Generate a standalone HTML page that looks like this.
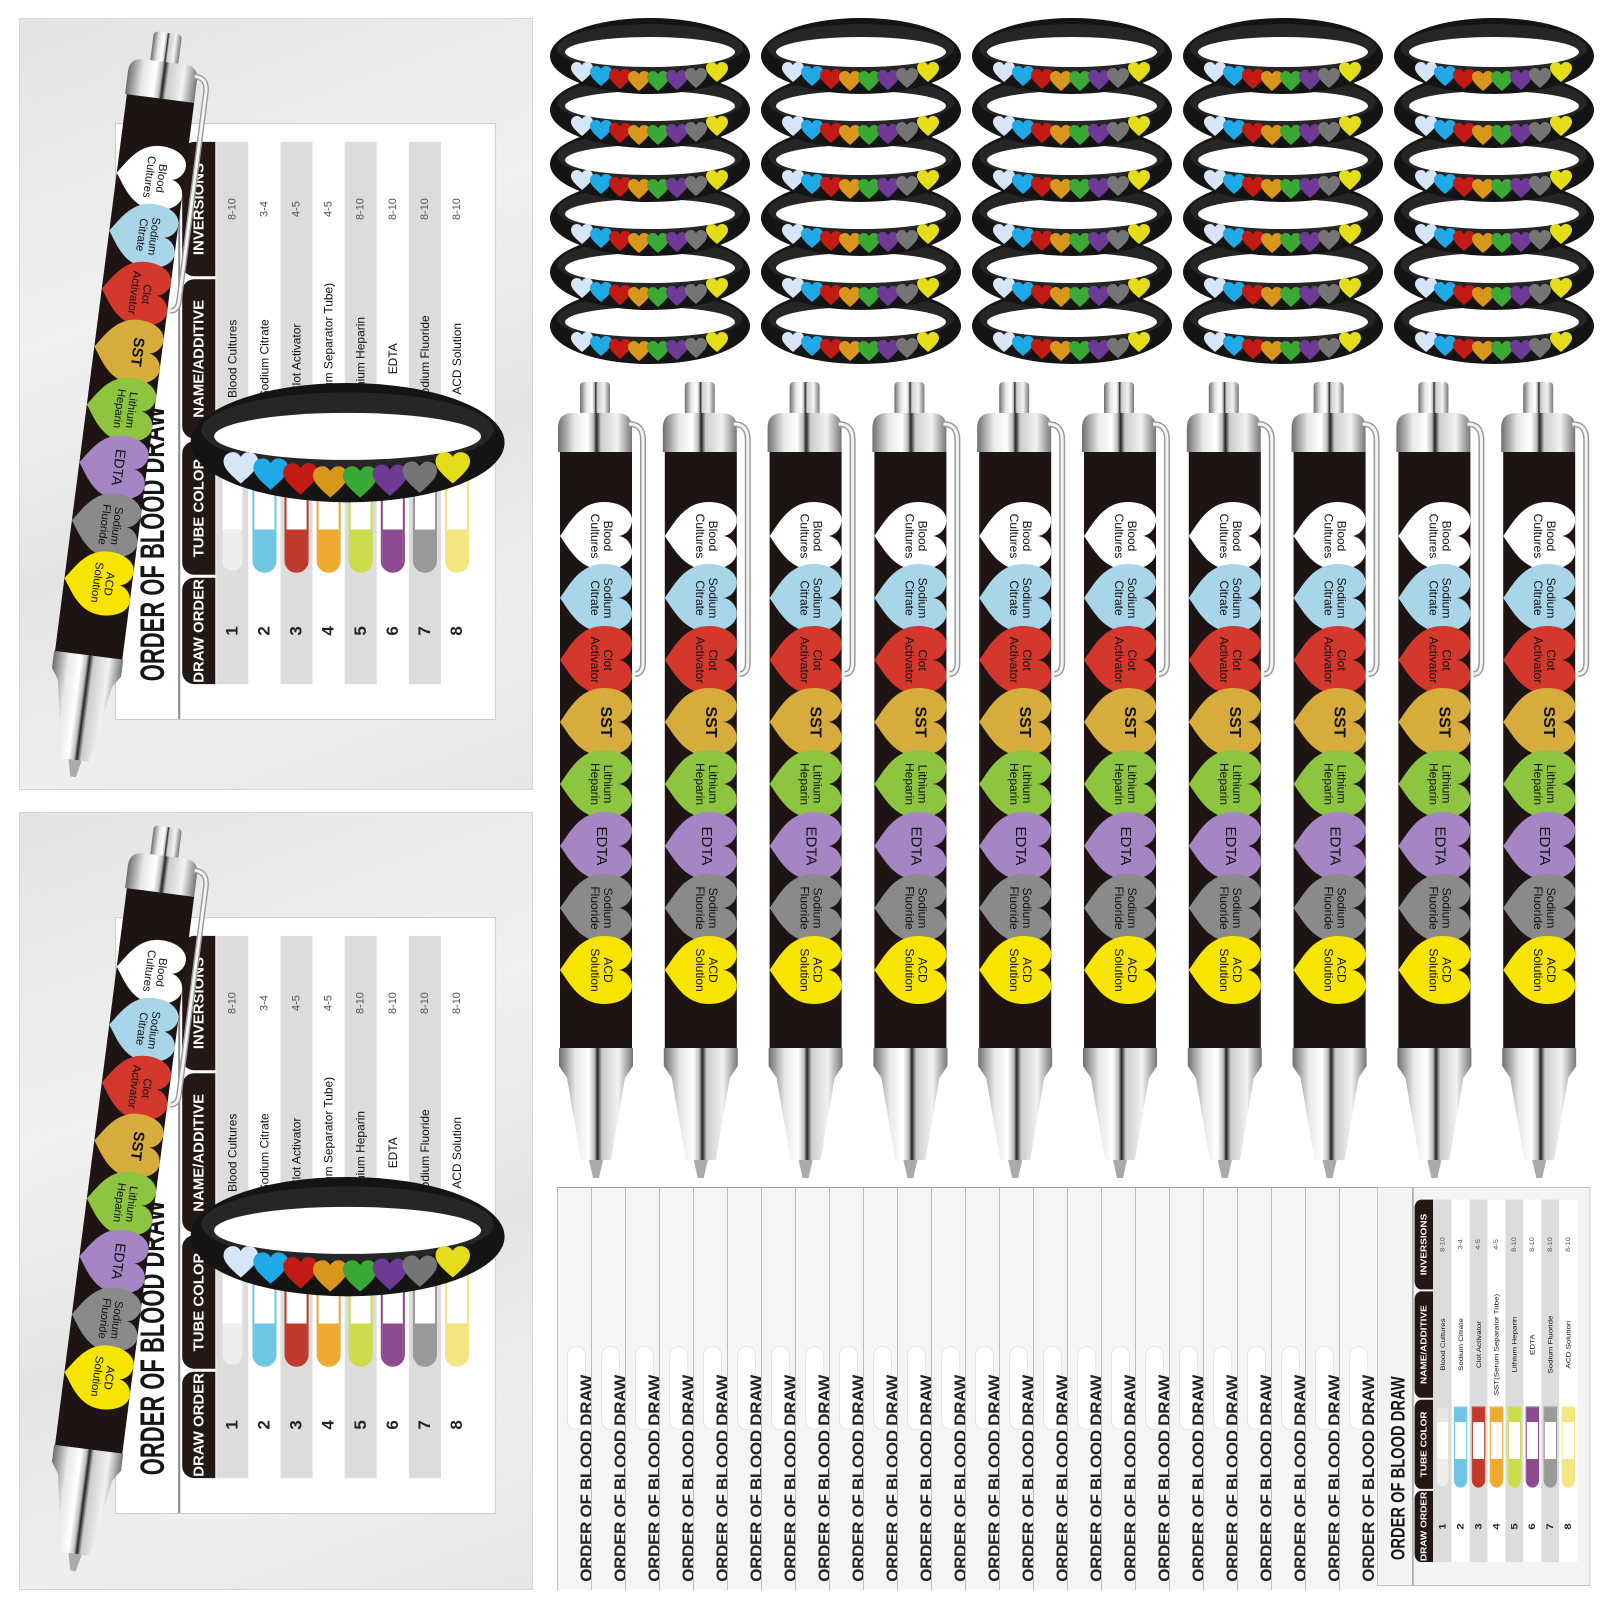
<!DOCTYPE html>
<html><head><meta charset="utf-8">
<style>
*{margin:0;padding:0;box-sizing:border-box}
body{width:1600px;height:1600px;background:#fff;position:relative;overflow:hidden;font-family:"Liberation Sans",sans-serif}
.bag{position:absolute;left:19px;width:514px;background:linear-gradient(160deg,#e3e3e3,#f1f1f1 35%,#e4e4e4 60%,#eeeeee 80%,#e6e6e6);border:1px solid #d6d6d6}
.cw{position:absolute}
.card{position:absolute;left:0;top:0;width:600px;height:380px;background:#fff;transform-origin:0 0;border:1px solid #ccc}
.card.f{background:#f4f4f4;border-color:#aaa}
.ttl{position:absolute;left:38px;top:18px;font:bold 34px "Liberation Sans Narrow","Liberation Sans",sans-serif;transform:scaleX(0.65);transform-origin:0 0;white-space:nowrap;color:#151515}
.ln{position:absolute;left:0;right:0;top:62px;height:2px;background:#888}
.hd{position:absolute;top:66px;height:33px;background:#231815;color:#fff;font:bold 15px "Liberation Sans",sans-serif;line-height:33px;text-align:center;border-radius:12px 12px 0 0;white-space:nowrap;overflow:hidden}
.rw{position:absolute;left:35px;width:545px;height:32px;background:#fff}
.rw.g{background:#dcdcdc}
.rw .n{position:absolute;left:0;width:107px;text-align:center;font:bold 17px "Liberation Sans",sans-serif;line-height:32px;color:#222}
.rw .t{position:absolute;left:112px;top:4px;width:122px;height:24px;border:2px solid;border-radius:12px 0 0 12px}
.rw .nm{position:absolute;left:247px;width:160px;text-align:center;font:12px "Liberation Sans",sans-serif;line-height:32px;color:#111;white-space:nowrap}
.rw .iv{position:absolute;left:410px;width:135px;text-align:center;font:11px "Liberation Sans",sans-serif;line-height:32px;color:#555}
.st{position:absolute;top:1187px;height:403px;width:35px;border-left:1px solid #bdbdbd;border-top:1px solid #999;background:#f5f5f5}
.st .sl{position:absolute;left:9px;top:158px;width:19px;height:84px;background:#fff;border-radius:10px;border:1px solid #e4e4e4}
.st .tx{position:absolute;left:19px;bottom:8px;writing-mode:vertical-rl;transform:rotate(180deg);font:bold 17px "Liberation Sans Narrow","Liberation Sans",sans-serif;color:#222;white-space:nowrap;letter-spacing:-0.3px}
svg.ov{position:absolute;left:0;top:0;pointer-events:none}
.pt text{font-family:"Liberation Sans",sans-serif;font-size:12px;fill:#111}
</style></head><body>

<div class="bag" style="top:18px;height:772px"></div>
<div class="bag" style="top:812px;height:778px"></div>

<div class="cw" style="left:115px;top:123px">
<div class="card" style="transform:translate(0,597px) scale(1.003,0.995) rotate(-90deg)">
<div class="ttl">ORDER OF BLOOD DRAW</div><div class="ln"></div>
<div class="hd" style="left:35px;width:107px">DRAW ORDER</div><div class="hd" style="left:145px;width:134px">TUBE COLOR</div><div class="hd" style="left:282px;width:160px">NAME/ADDITIVE</div><div class="hd" style="left:445px;width:135px">INVERSIONS</div>
<div class="rw g" style="top:100px"><span class="n">1</span><span class="t" style="border-color:#ddd;background:linear-gradient(90deg,#eee 0 35%,#fff 35% 82%,#e6e6e6 82%)"></span><span class="nm">Blood Cultures</span><span class="iv">8-10</span></div>
<div class="rw" style="top:132px"><span class="n">2</span><span class="t" style="border-color:#6ec6e4;background:linear-gradient(90deg,#6ec6e4 0 35%,#fff 35% 82%,#6ec6e4 82%)"></span><span class="nm">Sodium Citrate</span><span class="iv">3-4</span></div>
<div class="rw g" style="top:164px"><span class="n">3</span><span class="t" style="border-color:#c0392b;background:linear-gradient(90deg,#c0392b 0 35%,#fff 35% 82%,#c0392b 82%)"></span><span class="nm">Clot Activator</span><span class="iv">4-5</span></div>
<div class="rw" style="top:196px"><span class="n">4</span><span class="t" style="border-color:#eea92e;background:linear-gradient(90deg,#eea92e 0 35%,#fff 35% 82%,#eea92e 82%)"></span><span class="nm">SST(Serum Separator Tube)</span><span class="iv">4-5</span></div>
<div class="rw g" style="top:228px"><span class="n">5</span><span class="t" style="border-color:#cddc4b;background:linear-gradient(90deg,#cddc4b 0 35%,#fff 35% 82%,#cddc4b 82%)"></span><span class="nm">Lithium Heparin</span><span class="iv">8-10</span></div>
<div class="rw" style="top:260px"><span class="n">6</span><span class="t" style="border-color:#8e4a8e;background:linear-gradient(90deg,#8e4a8e 0 35%,#fff 35% 82%,#8e4a8e 82%)"></span><span class="nm">EDTA</span><span class="iv">8-10</span></div>
<div class="rw g" style="top:292px"><span class="n">7</span><span class="t" style="border-color:#999;background:linear-gradient(90deg,#999 0 35%,#fff 35% 82%,#999 82%)"></span><span class="nm">Sodium Fluoride</span><span class="iv">8-10</span></div>
<div class="rw" style="top:324px"><span class="n">8</span><span class="t" style="border-color:#f3e680;background:linear-gradient(90deg,#f3e680 0 35%,#fff 35% 82%,#f3e680 82%)"></span><span class="nm">ACD Solution</span><span class="iv">8-10</span></div>
</div></div>

<div class="cw" style="left:115px;top:917px">
<div class="card" style="transform:translate(0,597px) scale(1.003,0.995) rotate(-90deg)">
<div class="ttl">ORDER OF BLOOD DRAW</div><div class="ln"></div>
<div class="hd" style="left:35px;width:107px">DRAW ORDER</div><div class="hd" style="left:145px;width:134px">TUBE COLOR</div><div class="hd" style="left:282px;width:160px">NAME/ADDITIVE</div><div class="hd" style="left:445px;width:135px">INVERSIONS</div>
<div class="rw g" style="top:100px"><span class="n">1</span><span class="t" style="border-color:#ddd;background:linear-gradient(90deg,#eee 0 35%,#fff 35% 82%,#e6e6e6 82%)"></span><span class="nm">Blood Cultures</span><span class="iv">8-10</span></div>
<div class="rw" style="top:132px"><span class="n">2</span><span class="t" style="border-color:#6ec6e4;background:linear-gradient(90deg,#6ec6e4 0 35%,#fff 35% 82%,#6ec6e4 82%)"></span><span class="nm">Sodium Citrate</span><span class="iv">3-4</span></div>
<div class="rw g" style="top:164px"><span class="n">3</span><span class="t" style="border-color:#c0392b;background:linear-gradient(90deg,#c0392b 0 35%,#fff 35% 82%,#c0392b 82%)"></span><span class="nm">Clot Activator</span><span class="iv">4-5</span></div>
<div class="rw" style="top:196px"><span class="n">4</span><span class="t" style="border-color:#eea92e;background:linear-gradient(90deg,#eea92e 0 35%,#fff 35% 82%,#eea92e 82%)"></span><span class="nm">SST(Serum Separator Tube)</span><span class="iv">4-5</span></div>
<div class="rw g" style="top:228px"><span class="n">5</span><span class="t" style="border-color:#cddc4b;background:linear-gradient(90deg,#cddc4b 0 35%,#fff 35% 82%,#cddc4b 82%)"></span><span class="nm">Lithium Heparin</span><span class="iv">8-10</span></div>
<div class="rw" style="top:260px"><span class="n">6</span><span class="t" style="border-color:#8e4a8e;background:linear-gradient(90deg,#8e4a8e 0 35%,#fff 35% 82%,#8e4a8e 82%)"></span><span class="nm">EDTA</span><span class="iv">8-10</span></div>
<div class="rw g" style="top:292px"><span class="n">7</span><span class="t" style="border-color:#999;background:linear-gradient(90deg,#999 0 35%,#fff 35% 82%,#999 82%)"></span><span class="nm">Sodium Fluoride</span><span class="iv">8-10</span></div>
<div class="rw" style="top:324px"><span class="n">8</span><span class="t" style="border-color:#f3e680;background:linear-gradient(90deg,#f3e680 0 35%,#fff 35% 82%,#f3e680 82%)"></span><span class="nm">ACD Solution</span><span class="iv">8-10</span></div>
</div></div>

<div class="st" style="left:557px"><div class="sl"></div><div class="tx">ORDER OF BLOOD DRAW</div></div>
<div class="st" style="left:591px"><div class="sl"></div><div class="tx">ORDER OF BLOOD DRAW</div></div>
<div class="st" style="left:625px"><div class="sl"></div><div class="tx">ORDER OF BLOOD DRAW</div></div>
<div class="st" style="left:659px"><div class="sl"></div><div class="tx">ORDER OF BLOOD DRAW</div></div>
<div class="st" style="left:693px"><div class="sl"></div><div class="tx">ORDER OF BLOOD DRAW</div></div>
<div class="st" style="left:727px"><div class="sl"></div><div class="tx">ORDER OF BLOOD DRAW</div></div>
<div class="st" style="left:761px"><div class="sl"></div><div class="tx">ORDER OF BLOOD DRAW</div></div>
<div class="st" style="left:795px"><div class="sl"></div><div class="tx">ORDER OF BLOOD DRAW</div></div>
<div class="st" style="left:829px"><div class="sl"></div><div class="tx">ORDER OF BLOOD DRAW</div></div>
<div class="st" style="left:863px"><div class="sl"></div><div class="tx">ORDER OF BLOOD DRAW</div></div>
<div class="st" style="left:897px"><div class="sl"></div><div class="tx">ORDER OF BLOOD DRAW</div></div>
<div class="st" style="left:931px"><div class="sl"></div><div class="tx">ORDER OF BLOOD DRAW</div></div>
<div class="st" style="left:965px"><div class="sl"></div><div class="tx">ORDER OF BLOOD DRAW</div></div>
<div class="st" style="left:999px"><div class="sl"></div><div class="tx">ORDER OF BLOOD DRAW</div></div>
<div class="st" style="left:1033px"><div class="sl"></div><div class="tx">ORDER OF BLOOD DRAW</div></div>
<div class="st" style="left:1067px"><div class="sl"></div><div class="tx">ORDER OF BLOOD DRAW</div></div>
<div class="st" style="left:1101px"><div class="sl"></div><div class="tx">ORDER OF BLOOD DRAW</div></div>
<div class="st" style="left:1135px"><div class="sl"></div><div class="tx">ORDER OF BLOOD DRAW</div></div>
<div class="st" style="left:1169px"><div class="sl"></div><div class="tx">ORDER OF BLOOD DRAW</div></div>
<div class="st" style="left:1203px"><div class="sl"></div><div class="tx">ORDER OF BLOOD DRAW</div></div>
<div class="st" style="left:1237px"><div class="sl"></div><div class="tx">ORDER OF BLOOD DRAW</div></div>
<div class="st" style="left:1271px"><div class="sl"></div><div class="tx">ORDER OF BLOOD DRAW</div></div>
<div class="st" style="left:1305px"><div class="sl"></div><div class="tx">ORDER OF BLOOD DRAW</div></div>
<div class="st" style="left:1339px;width:38px"><div class="sl"></div><div class="tx">ORDER OF BLOOD DRAW</div></div>

<div class="cw" style="left:1377px;top:1187px">
<div class="card f" style="transform:translate(0,399px) scale(0.561,0.665) rotate(-90deg)">
<div class="ttl">ORDER OF BLOOD DRAW</div><div class="ln"></div>
<div class="hd" style="left:35px;width:107px">DRAW ORDER</div><div class="hd" style="left:145px;width:134px">TUBE COLOR</div><div class="hd" style="left:282px;width:160px">NAME/ADDITIVE</div><div class="hd" style="left:445px;width:135px">INVERSIONS</div>
<div class="rw g" style="top:100px"><span class="n">1</span><span class="t" style="border-color:#ddd;background:linear-gradient(90deg,#eee 0 35%,#fff 35% 82%,#e6e6e6 82%)"></span><span class="nm">Blood Cultures</span><span class="iv">8-10</span></div>
<div class="rw" style="top:132px"><span class="n">2</span><span class="t" style="border-color:#6ec6e4;background:linear-gradient(90deg,#6ec6e4 0 35%,#fff 35% 82%,#6ec6e4 82%)"></span><span class="nm">Sodium Citrate</span><span class="iv">3-4</span></div>
<div class="rw g" style="top:164px"><span class="n">3</span><span class="t" style="border-color:#c0392b;background:linear-gradient(90deg,#c0392b 0 35%,#fff 35% 82%,#c0392b 82%)"></span><span class="nm">Clot Activator</span><span class="iv">4-5</span></div>
<div class="rw" style="top:196px"><span class="n">4</span><span class="t" style="border-color:#eea92e;background:linear-gradient(90deg,#eea92e 0 35%,#fff 35% 82%,#eea92e 82%)"></span><span class="nm">SST(Serum Separator Tube)</span><span class="iv">4-5</span></div>
<div class="rw g" style="top:228px"><span class="n">5</span><span class="t" style="border-color:#cddc4b;background:linear-gradient(90deg,#cddc4b 0 35%,#fff 35% 82%,#cddc4b 82%)"></span><span class="nm">Lithium Heparin</span><span class="iv">8-10</span></div>
<div class="rw" style="top:260px"><span class="n">6</span><span class="t" style="border-color:#8e4a8e;background:linear-gradient(90deg,#8e4a8e 0 35%,#fff 35% 82%,#8e4a8e 82%)"></span><span class="nm">EDTA</span><span class="iv">8-10</span></div>
<div class="rw g" style="top:292px"><span class="n">7</span><span class="t" style="border-color:#999;background:linear-gradient(90deg,#999 0 35%,#fff 35% 82%,#999 82%)"></span><span class="nm">Sodium Fluoride</span><span class="iv">8-10</span></div>
<div class="rw" style="top:324px"><span class="n">8</span><span class="t" style="border-color:#f3e680;background:linear-gradient(90deg,#f3e680 0 35%,#fff 35% 82%,#f3e680 82%)"></span><span class="nm">ACD Solution</span><span class="iv">8-10</span></div>
</div></div>

<svg class="ov" width="1600" height="1600" viewBox="0 0 1600 1600">
<defs>
<linearGradient id="sv" x1="0" x2="1" y1="0" y2="0">
<stop offset="0" stop-color="#6e6e6e"/><stop offset=".22" stop-color="#e8e8e8"/><stop offset=".4" stop-color="#fff"/><stop offset=".48" stop-color="#bbb"/><stop offset=".52" stop-color="#222"/><stop offset=".58" stop-color="#ccc"/><stop offset=".8" stop-color="#f2f2f2"/><stop offset="1" stop-color="#777"/>
</linearGradient>
<clipPath id="bc"><rect x="15" y="70" width="72" height="596"/></clipPath>
<path id="ht" d="M0,36 C10,22 20,2 44,2 C60,2 72,10 72,20 C72,30 64,36 58,36 C64,36 72,42 72,52 C72,62 60,70 44,70 C20,70 10,50 0,36 Z"/>
<path id="hs" d="M11,20 C4,14 0,10 0,6 C0,2 3,0 6,0 C8.5,0 10,1.5 11,3 C12,1.5 13.5,0 16,0 C19,0 22,2 22,6 C22,10 18,14 11,20 Z"/>
<g id="pen">
<rect x="35" y="0" width="30" height="34" rx="4" fill="url(#sv)"/>
<path d="M13,70 L13,46 Q13,31 28,31 L72,31 Q87,31 87,46 L87,70 Z" fill="url(#sv)"/>
<path d="M84,42 Q98,42 98,58 L98,280 Q98,292 90,292" fill="none" stroke="#9a9a9a" stroke-width="6"/>
<path d="M84,42 Q98,42 98,58 L98,280 Q98,292 90,292" fill="none" stroke="#f4f4f4" stroke-width="3"/>
<rect x="15" y="70" width="72" height="596" fill="#1e1414"/>
<g clip-path="url(#bc)">
<use href="#ht" x="15" y="118" fill="#ffffff"/>
<use href="#ht" x="15" y="180" fill="#a8d5e8"/>
<use href="#ht" x="15" y="242" fill="#d4372c"/>
<use href="#ht" x="15" y="304" fill="#d6ac3c"/>
<use href="#ht" x="15" y="366" fill="#8dc440"/>
<use href="#ht" x="15" y="428" fill="#a585c4"/>
<use href="#ht" x="15" y="490" fill="#8a8a8a"/>
<use href="#ht" x="15" y="552" fill="#f7e400"/>
</g>
<path d="M14,666 L88,666 L88,684 L80,696 L66,778 L36,778 L22,696 L14,684 Z" fill="url(#sv)"/>
<path d="M44,778 L58,778 L54,796 L48,796 Z" fill="#aaa"/>
</g>
<g id="br">
<ellipse cx="101" cy="38" rx="100" ry="38" fill="#141414"/>
<ellipse cx="101" cy="30" rx="93" ry="24" fill="#262626"/>
<ellipse cx="101" cy="34" rx="85" ry="15" fill="#fff"/>
<use href="#hs" x="22" y="44" fill="#d6e6f7"/>
<use href="#hs" x="41" y="48" fill="#1fa9e6"/>
<use href="#hs" x="60" y="51" fill="#c41a16"/>
<use href="#hs" x="79" y="53" fill="#d9961c"/>
<use href="#hs" x="98" y="53" fill="#3aa935"/>
<use href="#hs" x="117" y="52" fill="#6e3a96"/>
<use href="#hs" x="136" y="50" fill="#757575"/>
<use href="#hs" x="157" y="44" fill="#e5dd1a"/>
</g>
</defs>

<g>
<use href="#br" x="549" y="288"/><use href="#br" x="760" y="288"/><use href="#br" x="971" y="288"/><use href="#br" x="1182" y="288"/><use href="#br" x="1393" y="288"/>
<use href="#br" x="549" y="234"/><use href="#br" x="760" y="234"/><use href="#br" x="971" y="234"/><use href="#br" x="1182" y="234"/><use href="#br" x="1393" y="234"/>
<use href="#br" x="549" y="180"/><use href="#br" x="760" y="180"/><use href="#br" x="971" y="180"/><use href="#br" x="1182" y="180"/><use href="#br" x="1393" y="180"/>
<use href="#br" x="549" y="126"/><use href="#br" x="760" y="126"/><use href="#br" x="971" y="126"/><use href="#br" x="1182" y="126"/><use href="#br" x="1393" y="126"/>
<use href="#br" x="549" y="72"/><use href="#br" x="760" y="72"/><use href="#br" x="971" y="72"/><use href="#br" x="1182" y="72"/><use href="#br" x="1393" y="72"/>
<use href="#br" x="549" y="18"/><use href="#br" x="760" y="18"/><use href="#br" x="971" y="18"/><use href="#br" x="1182" y="18"/><use href="#br" x="1393" y="18"/>
</g>

<use href="#br" transform="translate(189,383) scale(1.57)"/>
<use href="#br" transform="translate(189,1177) scale(1.57)"/>

<g transform="translate(545,382)"><use href="#pen"/><g class="pt">
<text transform="translate(56,154) rotate(90)" text-anchor="middle"><tspan x="0" y="-3">Blood</tspan><tspan x="0" y="10">Cultures</tspan></text>
<text transform="translate(56,216) rotate(90)" text-anchor="middle"><tspan x="0" y="-3">Sodium</tspan><tspan x="0" y="10">Citrate</tspan></text>
<text transform="translate(56,278) rotate(90)" text-anchor="middle"><tspan x="0" y="-3">Clot</tspan><tspan x="0" y="10">Activator</tspan></text>
<text transform="translate(56,340) rotate(90)" text-anchor="middle" style="font-weight:bold;font-size:16px"><tspan x="0" y="0">SST</tspan></text>
<text transform="translate(56,402) rotate(90)" text-anchor="middle"><tspan x="0" y="-3">Lithium</tspan><tspan x="0" y="10">Heparin</tspan></text>
<text transform="translate(56,464) rotate(90)" text-anchor="middle" style="font-size:15px"><tspan x="0" y="4">EDTA</tspan></text>
<text transform="translate(56,526) rotate(90)" text-anchor="middle"><tspan x="0" y="-3">Sodium</tspan><tspan x="0" y="10">Fluoride</tspan></text>
<text transform="translate(56,588) rotate(90)" text-anchor="middle"><tspan x="0" y="-3">ACD</tspan><tspan x="0" y="10">Solution</tspan></text></g></g>

<g transform="translate(649.8,382)"><use href="#pen"/><g class="pt">
<text transform="translate(56,154) rotate(90)" text-anchor="middle"><tspan x="0" y="-3">Blood</tspan><tspan x="0" y="10">Cultures</tspan></text>
<text transform="translate(56,216) rotate(90)" text-anchor="middle"><tspan x="0" y="-3">Sodium</tspan><tspan x="0" y="10">Citrate</tspan></text>
<text transform="translate(56,278) rotate(90)" text-anchor="middle"><tspan x="0" y="-3">Clot</tspan><tspan x="0" y="10">Activator</tspan></text>
<text transform="translate(56,340) rotate(90)" text-anchor="middle" style="font-weight:bold;font-size:16px"><tspan x="0" y="0">SST</tspan></text>
<text transform="translate(56,402) rotate(90)" text-anchor="middle"><tspan x="0" y="-3">Lithium</tspan><tspan x="0" y="10">Heparin</tspan></text>
<text transform="translate(56,464) rotate(90)" text-anchor="middle" style="font-size:15px"><tspan x="0" y="4">EDTA</tspan></text>
<text transform="translate(56,526) rotate(90)" text-anchor="middle"><tspan x="0" y="-3">Sodium</tspan><tspan x="0" y="10">Fluoride</tspan></text>
<text transform="translate(56,588) rotate(90)" text-anchor="middle"><tspan x="0" y="-3">ACD</tspan><tspan x="0" y="10">Solution</tspan></text></g></g>

<g transform="translate(754.6,382)"><use href="#pen"/><g class="pt">
<text transform="translate(56,154) rotate(90)" text-anchor="middle"><tspan x="0" y="-3">Blood</tspan><tspan x="0" y="10">Cultures</tspan></text>
<text transform="translate(56,216) rotate(90)" text-anchor="middle"><tspan x="0" y="-3">Sodium</tspan><tspan x="0" y="10">Citrate</tspan></text>
<text transform="translate(56,278) rotate(90)" text-anchor="middle"><tspan x="0" y="-3">Clot</tspan><tspan x="0" y="10">Activator</tspan></text>
<text transform="translate(56,340) rotate(90)" text-anchor="middle" style="font-weight:bold;font-size:16px"><tspan x="0" y="0">SST</tspan></text>
<text transform="translate(56,402) rotate(90)" text-anchor="middle"><tspan x="0" y="-3">Lithium</tspan><tspan x="0" y="10">Heparin</tspan></text>
<text transform="translate(56,464) rotate(90)" text-anchor="middle" style="font-size:15px"><tspan x="0" y="4">EDTA</tspan></text>
<text transform="translate(56,526) rotate(90)" text-anchor="middle"><tspan x="0" y="-3">Sodium</tspan><tspan x="0" y="10">Fluoride</tspan></text>
<text transform="translate(56,588) rotate(90)" text-anchor="middle"><tspan x="0" y="-3">ACD</tspan><tspan x="0" y="10">Solution</tspan></text></g></g>

<g transform="translate(859.4,382)"><use href="#pen"/><g class="pt">
<text transform="translate(56,154) rotate(90)" text-anchor="middle"><tspan x="0" y="-3">Blood</tspan><tspan x="0" y="10">Cultures</tspan></text>
<text transform="translate(56,216) rotate(90)" text-anchor="middle"><tspan x="0" y="-3">Sodium</tspan><tspan x="0" y="10">Citrate</tspan></text>
<text transform="translate(56,278) rotate(90)" text-anchor="middle"><tspan x="0" y="-3">Clot</tspan><tspan x="0" y="10">Activator</tspan></text>
<text transform="translate(56,340) rotate(90)" text-anchor="middle" style="font-weight:bold;font-size:16px"><tspan x="0" y="0">SST</tspan></text>
<text transform="translate(56,402) rotate(90)" text-anchor="middle"><tspan x="0" y="-3">Lithium</tspan><tspan x="0" y="10">Heparin</tspan></text>
<text transform="translate(56,464) rotate(90)" text-anchor="middle" style="font-size:15px"><tspan x="0" y="4">EDTA</tspan></text>
<text transform="translate(56,526) rotate(90)" text-anchor="middle"><tspan x="0" y="-3">Sodium</tspan><tspan x="0" y="10">Fluoride</tspan></text>
<text transform="translate(56,588) rotate(90)" text-anchor="middle"><tspan x="0" y="-3">ACD</tspan><tspan x="0" y="10">Solution</tspan></text></g></g>

<g transform="translate(964.2,382)"><use href="#pen"/><g class="pt">
<text transform="translate(56,154) rotate(90)" text-anchor="middle"><tspan x="0" y="-3">Blood</tspan><tspan x="0" y="10">Cultures</tspan></text>
<text transform="translate(56,216) rotate(90)" text-anchor="middle"><tspan x="0" y="-3">Sodium</tspan><tspan x="0" y="10">Citrate</tspan></text>
<text transform="translate(56,278) rotate(90)" text-anchor="middle"><tspan x="0" y="-3">Clot</tspan><tspan x="0" y="10">Activator</tspan></text>
<text transform="translate(56,340) rotate(90)" text-anchor="middle" style="font-weight:bold;font-size:16px"><tspan x="0" y="0">SST</tspan></text>
<text transform="translate(56,402) rotate(90)" text-anchor="middle"><tspan x="0" y="-3">Lithium</tspan><tspan x="0" y="10">Heparin</tspan></text>
<text transform="translate(56,464) rotate(90)" text-anchor="middle" style="font-size:15px"><tspan x="0" y="4">EDTA</tspan></text>
<text transform="translate(56,526) rotate(90)" text-anchor="middle"><tspan x="0" y="-3">Sodium</tspan><tspan x="0" y="10">Fluoride</tspan></text>
<text transform="translate(56,588) rotate(90)" text-anchor="middle"><tspan x="0" y="-3">ACD</tspan><tspan x="0" y="10">Solution</tspan></text></g></g>

<g transform="translate(1069,382)"><use href="#pen"/><g class="pt">
<text transform="translate(56,154) rotate(90)" text-anchor="middle"><tspan x="0" y="-3">Blood</tspan><tspan x="0" y="10">Cultures</tspan></text>
<text transform="translate(56,216) rotate(90)" text-anchor="middle"><tspan x="0" y="-3">Sodium</tspan><tspan x="0" y="10">Citrate</tspan></text>
<text transform="translate(56,278) rotate(90)" text-anchor="middle"><tspan x="0" y="-3">Clot</tspan><tspan x="0" y="10">Activator</tspan></text>
<text transform="translate(56,340) rotate(90)" text-anchor="middle" style="font-weight:bold;font-size:16px"><tspan x="0" y="0">SST</tspan></text>
<text transform="translate(56,402) rotate(90)" text-anchor="middle"><tspan x="0" y="-3">Lithium</tspan><tspan x="0" y="10">Heparin</tspan></text>
<text transform="translate(56,464) rotate(90)" text-anchor="middle" style="font-size:15px"><tspan x="0" y="4">EDTA</tspan></text>
<text transform="translate(56,526) rotate(90)" text-anchor="middle"><tspan x="0" y="-3">Sodium</tspan><tspan x="0" y="10">Fluoride</tspan></text>
<text transform="translate(56,588) rotate(90)" text-anchor="middle"><tspan x="0" y="-3">ACD</tspan><tspan x="0" y="10">Solution</tspan></text></g></g>

<g transform="translate(1173.8,382)"><use href="#pen"/><g class="pt">
<text transform="translate(56,154) rotate(90)" text-anchor="middle"><tspan x="0" y="-3">Blood</tspan><tspan x="0" y="10">Cultures</tspan></text>
<text transform="translate(56,216) rotate(90)" text-anchor="middle"><tspan x="0" y="-3">Sodium</tspan><tspan x="0" y="10">Citrate</tspan></text>
<text transform="translate(56,278) rotate(90)" text-anchor="middle"><tspan x="0" y="-3">Clot</tspan><tspan x="0" y="10">Activator</tspan></text>
<text transform="translate(56,340) rotate(90)" text-anchor="middle" style="font-weight:bold;font-size:16px"><tspan x="0" y="0">SST</tspan></text>
<text transform="translate(56,402) rotate(90)" text-anchor="middle"><tspan x="0" y="-3">Lithium</tspan><tspan x="0" y="10">Heparin</tspan></text>
<text transform="translate(56,464) rotate(90)" text-anchor="middle" style="font-size:15px"><tspan x="0" y="4">EDTA</tspan></text>
<text transform="translate(56,526) rotate(90)" text-anchor="middle"><tspan x="0" y="-3">Sodium</tspan><tspan x="0" y="10">Fluoride</tspan></text>
<text transform="translate(56,588) rotate(90)" text-anchor="middle"><tspan x="0" y="-3">ACD</tspan><tspan x="0" y="10">Solution</tspan></text></g></g>

<g transform="translate(1278.6,382)"><use href="#pen"/><g class="pt">
<text transform="translate(56,154) rotate(90)" text-anchor="middle"><tspan x="0" y="-3">Blood</tspan><tspan x="0" y="10">Cultures</tspan></text>
<text transform="translate(56,216) rotate(90)" text-anchor="middle"><tspan x="0" y="-3">Sodium</tspan><tspan x="0" y="10">Citrate</tspan></text>
<text transform="translate(56,278) rotate(90)" text-anchor="middle"><tspan x="0" y="-3">Clot</tspan><tspan x="0" y="10">Activator</tspan></text>
<text transform="translate(56,340) rotate(90)" text-anchor="middle" style="font-weight:bold;font-size:16px"><tspan x="0" y="0">SST</tspan></text>
<text transform="translate(56,402) rotate(90)" text-anchor="middle"><tspan x="0" y="-3">Lithium</tspan><tspan x="0" y="10">Heparin</tspan></text>
<text transform="translate(56,464) rotate(90)" text-anchor="middle" style="font-size:15px"><tspan x="0" y="4">EDTA</tspan></text>
<text transform="translate(56,526) rotate(90)" text-anchor="middle"><tspan x="0" y="-3">Sodium</tspan><tspan x="0" y="10">Fluoride</tspan></text>
<text transform="translate(56,588) rotate(90)" text-anchor="middle"><tspan x="0" y="-3">ACD</tspan><tspan x="0" y="10">Solution</tspan></text></g></g>

<g transform="translate(1383.4,382)"><use href="#pen"/><g class="pt">
<text transform="translate(56,154) rotate(90)" text-anchor="middle"><tspan x="0" y="-3">Blood</tspan><tspan x="0" y="10">Cultures</tspan></text>
<text transform="translate(56,216) rotate(90)" text-anchor="middle"><tspan x="0" y="-3">Sodium</tspan><tspan x="0" y="10">Citrate</tspan></text>
<text transform="translate(56,278) rotate(90)" text-anchor="middle"><tspan x="0" y="-3">Clot</tspan><tspan x="0" y="10">Activator</tspan></text>
<text transform="translate(56,340) rotate(90)" text-anchor="middle" style="font-weight:bold;font-size:16px"><tspan x="0" y="0">SST</tspan></text>
<text transform="translate(56,402) rotate(90)" text-anchor="middle"><tspan x="0" y="-3">Lithium</tspan><tspan x="0" y="10">Heparin</tspan></text>
<text transform="translate(56,464) rotate(90)" text-anchor="middle" style="font-size:15px"><tspan x="0" y="4">EDTA</tspan></text>
<text transform="translate(56,526) rotate(90)" text-anchor="middle"><tspan x="0" y="-3">Sodium</tspan><tspan x="0" y="10">Fluoride</tspan></text>
<text transform="translate(56,588) rotate(90)" text-anchor="middle"><tspan x="0" y="-3">ACD</tspan><tspan x="0" y="10">Solution</tspan></text></g></g>

<g transform="translate(1488.2,382)"><use href="#pen"/><g class="pt">
<text transform="translate(56,154) rotate(90)" text-anchor="middle"><tspan x="0" y="-3">Blood</tspan><tspan x="0" y="10">Cultures</tspan></text>
<text transform="translate(56,216) rotate(90)" text-anchor="middle"><tspan x="0" y="-3">Sodium</tspan><tspan x="0" y="10">Citrate</tspan></text>
<text transform="translate(56,278) rotate(90)" text-anchor="middle"><tspan x="0" y="-3">Clot</tspan><tspan x="0" y="10">Activator</tspan></text>
<text transform="translate(56,340) rotate(90)" text-anchor="middle" style="font-weight:bold;font-size:16px"><tspan x="0" y="0">SST</tspan></text>
<text transform="translate(56,402) rotate(90)" text-anchor="middle"><tspan x="0" y="-3">Lithium</tspan><tspan x="0" y="10">Heparin</tspan></text>
<text transform="translate(56,464) rotate(90)" text-anchor="middle" style="font-size:15px"><tspan x="0" y="4">EDTA</tspan></text>
<text transform="translate(56,526) rotate(90)" text-anchor="middle"><tspan x="0" y="-3">Sodium</tspan><tspan x="0" y="10">Fluoride</tspan></text>
<text transform="translate(56,588) rotate(90)" text-anchor="middle"><tspan x="0" y="-3">ACD</tspan><tspan x="0" y="10">Solution</tspan></text></g></g>

<g transform="translate(168,33) rotate(7.35) scale(0.942) translate(-50,0)"><use href="#pen"/><g class="pt">
<text transform="translate(56,154) rotate(90)" text-anchor="middle"><tspan x="0" y="-3">Blood</tspan><tspan x="0" y="10">Cultures</tspan></text>
<text transform="translate(56,216) rotate(90)" text-anchor="middle"><tspan x="0" y="-3">Sodium</tspan><tspan x="0" y="10">Citrate</tspan></text>
<text transform="translate(56,278) rotate(90)" text-anchor="middle"><tspan x="0" y="-3">Clot</tspan><tspan x="0" y="10">Activator</tspan></text>
<text transform="translate(56,340) rotate(90)" text-anchor="middle" style="font-weight:bold;font-size:16px"><tspan x="0" y="0">SST</tspan></text>
<text transform="translate(56,402) rotate(90)" text-anchor="middle"><tspan x="0" y="-3">Lithium</tspan><tspan x="0" y="10">Heparin</tspan></text>
<text transform="translate(56,464) rotate(90)" text-anchor="middle" style="font-size:15px"><tspan x="0" y="4">EDTA</tspan></text>
<text transform="translate(56,526) rotate(90)" text-anchor="middle"><tspan x="0" y="-3">Sodium</tspan><tspan x="0" y="10">Fluoride</tspan></text>
<text transform="translate(56,588) rotate(90)" text-anchor="middle"><tspan x="0" y="-3">ACD</tspan><tspan x="0" y="10">Solution</tspan></text></g></g>

<g transform="translate(168,827) rotate(7.35) scale(0.942) translate(-50,0)"><use href="#pen"/><g class="pt">
<text transform="translate(56,154) rotate(90)" text-anchor="middle"><tspan x="0" y="-3">Blood</tspan><tspan x="0" y="10">Cultures</tspan></text>
<text transform="translate(56,216) rotate(90)" text-anchor="middle"><tspan x="0" y="-3">Sodium</tspan><tspan x="0" y="10">Citrate</tspan></text>
<text transform="translate(56,278) rotate(90)" text-anchor="middle"><tspan x="0" y="-3">Clot</tspan><tspan x="0" y="10">Activator</tspan></text>
<text transform="translate(56,340) rotate(90)" text-anchor="middle" style="font-weight:bold;font-size:16px"><tspan x="0" y="0">SST</tspan></text>
<text transform="translate(56,402) rotate(90)" text-anchor="middle"><tspan x="0" y="-3">Lithium</tspan><tspan x="0" y="10">Heparin</tspan></text>
<text transform="translate(56,464) rotate(90)" text-anchor="middle" style="font-size:15px"><tspan x="0" y="4">EDTA</tspan></text>
<text transform="translate(56,526) rotate(90)" text-anchor="middle"><tspan x="0" y="-3">Sodium</tspan><tspan x="0" y="10">Fluoride</tspan></text>
<text transform="translate(56,588) rotate(90)" text-anchor="middle"><tspan x="0" y="-3">ACD</tspan><tspan x="0" y="10">Solution</tspan></text></g></g>
</svg>
</body></html>
